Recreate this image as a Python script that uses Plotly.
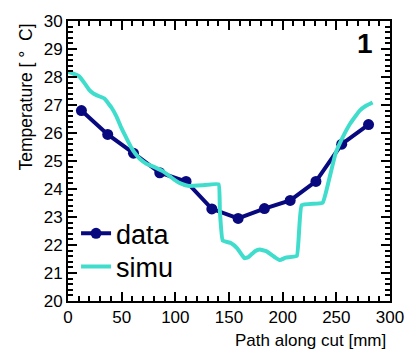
import plotly.graph_objects as go

data_x = [12.5, 37, 61, 85.5, 110, 134, 158.5, 183, 207, 231, 255, 280]
data_y = [26.8, 25.95, 25.28, 24.58, 24.27, 23.29, 22.95, 23.3, 23.59, 24.27, 25.6, 26.3]

simu_x = [0, 5, 10.5, 15, 19.5, 24, 28.5, 34, 40.5, 45, 49.5, 54, 58.5, 63, 67.6, 73, 79.6,
          88.6, 95, 100.6, 106, 112.6, 125, 140.3, 141.5, 144.1, 151.7, 157.7, 164.3, 168.2,
          174.2, 178.7, 184.7, 193.2, 197.4, 202.8, 213.2, 217.7, 237.2, 243, 249.3, 256,
          262.8, 271.8, 278, 283.8]
simu_y = [28.19, 28.12, 28.02, 27.8, 27.55, 27.4, 27.32, 27.23, 26.91, 26.6, 26.2, 25.85,
          25.51, 25.25, 25.05, 24.9, 24.8, 24.63, 24.45, 24.29, 24.18, 24.11, 24.13, 24.17,
          23.2, 22.16, 22.07, 21.88, 21.53, 21.57, 21.78, 21.84, 21.78, 21.55, 21.46, 21.55,
          21.61, 23.42, 23.51, 24.3, 25.27, 25.85, 26.33, 26.8, 26.98, 27.09]

font = "Liberation Sans, Arial, Helvetica, sans-serif"

fig = go.Figure()
fig.add_trace(go.Scatter(x=data_x, y=data_y, mode="lines+markers", name="data",
                         line=dict(color="#08087f", width=4),
                         marker=dict(color="#08087f", size=11), legend="legend"))
fig.add_trace(go.Scatter(x=simu_x, y=simu_y, mode="lines", name="simu",
                         line=dict(color="#40DDCC", width=4, shape="spline", smoothing=0.3),
                         legend="legend2"))

axis_common = dict(showgrid=False, zeroline=False, showline=True, linecolor="black",
                   linewidth=2, mirror="allticks", ticks="inside", ticklen=9, tickwidth=2,
                   tickcolor="black", tickfont=dict(size=17, color="black", family=font))

fig.update_xaxes(range=[0, 300], dtick=50, tick0=0,
                 minor=dict(dtick=10, ticks="inside", ticklen=5, tickwidth=2, tickcolor="black"),
                 **axis_common)
fig.update_yaxes(range=[20, 30], dtick=1, tick0=20,
                 minor=dict(dtick=0.2, ticks="inside", ticklen=5, tickwidth=2, tickcolor="black"),
                 **axis_common)

fig.add_annotation(x=1.0, y=0.0, xref="paper", yref="paper", text="Path along cut [mm]",
                   showarrow=False, xanchor="right", yanchor="middle", xshift=-2, yshift=-39,
                   font=dict(size=17, color="black", family=font))
fig.add_annotation(x=0.0, y=1.0, xref="paper", yref="paper", text="Temperature [ °  C]",
                   showarrow=False, xanchor="center", yanchor="top", textangle=-90,
                   xshift=-43, yshift=-1,
                   font=dict(size=17.5, color="black", family=font))

fig.add_annotation(x=0.985, y=0.92, xref="paper", yref="paper", text="<b>1</b>",
                   showarrow=False, xanchor="right", yanchor="middle", xshift=-10,
                   font=dict(size=28, color="black", family=font))

leg_common = dict(xanchor="left", yanchor="middle", bgcolor="rgba(0,0,0,0)",
                  font=dict(size=27, color="black", family=font), itemwidth=30)

fig.update_layout(
    width=416, height=353,
    margin=dict(l=68, r=15, t=15, b=52),
    paper_bgcolor="white", plot_bgcolor="white",
    showlegend=True,
    legend=dict(x=0.025, y=0.24, **leg_common),
    legend2=dict(x=0.025, y=0.122, **leg_common),
    font=dict(family=font),
)

fig.write_html("out.html")
